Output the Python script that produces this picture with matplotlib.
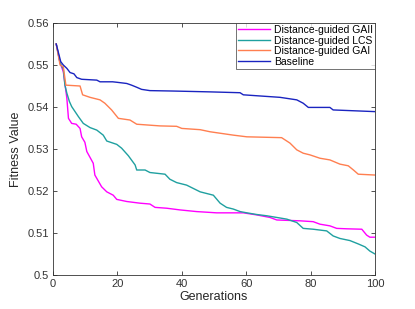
import matplotlib
matplotlib.use("Agg")
import matplotlib.pyplot as plt

# breakpoints (generation, fitness)
gen_gaii = [1, 2.2, 3.2, 4.3, 4.8, 5.8, 7.2, 8.4, 8.9, 9.9, 10.5, 11.5, 12.5, 13, 15.1, 16.7, 18.7, 19.8,
            22.9, 27, 30.1, 31.7, 35.3, 39.4, 44.6, 48.8, 50.8, 59.1, 63.3, 67.4, 69.5, 76.7, 80.8,
            82.9, 86, 88.1, 91.2, 95.9, 97.4, 98.4, 100]
fit_gaii = [0.555, 0.5505, 0.5484, 0.5421, 0.5373, 0.5361, 0.5359, 0.5349, 0.5329, 0.5316, 0.5294, 0.5280,
            0.5266, 0.5238, 0.5210, 0.5198, 0.5190, 0.5180, 0.5175, 0.5171, 0.5169, 0.5161, 0.5159,
            0.5155, 0.5151, 0.5149, 0.5148, 0.5148, 0.5143, 0.5137, 0.5131, 0.5129, 0.5127, 0.5121,
            0.5117, 0.5111, 0.5110, 0.5109, 0.5095, 0.5090, 0.5090]

gen_lcs = [1, 2.2, 3.2, 3.7, 4.3, 5.1, 5.8, 7.9, 9.4, 11.5, 13.6, 15.6, 16.7, 19.8, 21.3, 23.4, 25.5, 26,
           28.6, 30.1, 34.8, 36.3, 38.4, 41.5, 43.6, 45.7, 49.8, 51.9, 53.9, 56, 58.1, 60.2, 63.3,
           66.4, 69.5, 72.6, 75.7, 77.7, 80.8, 85, 87, 89.1, 92.2, 94.8, 96.9, 98.4, 100]
fit_lcs = [0.555, 0.5505, 0.5490, 0.5452, 0.5433, 0.5413, 0.5401, 0.5377, 0.5361, 0.5351, 0.5345, 0.5333,
           0.5319, 0.5311, 0.5302, 0.5284, 0.5262, 0.5250, 0.5250, 0.5244, 0.5240, 0.5228, 0.5220,
           0.5214, 0.5206, 0.5198, 0.5190, 0.5171, 0.5161, 0.5157, 0.5151, 0.5148, 0.5144, 0.5141,
           0.5137, 0.5133, 0.5125, 0.5111, 0.5109, 0.5105, 0.5093, 0.5087, 0.5082, 0.5074, 0.5067,
           0.5057, 0.5050]

gen_gai = [1, 2.2, 3.2, 4.0, 8.4, 9.2, 11.5, 14.6, 16.1, 18.2, 20.3, 23.9, 26, 33.2, 38.4, 40, 45.7,
           48.8, 56, 60.2, 71, 73.6, 75.7, 77.7, 79.8, 82.9, 86, 89.1, 91.7, 93.3, 94.8, 100]
fit_gai = [0.555, 0.5500, 0.5496, 0.5452, 0.5450, 0.5429, 0.5423, 0.5417, 0.5409, 0.5393, 0.5373, 0.5369,
           0.5359, 0.5355, 0.5354, 0.5349, 0.5346, 0.5341, 0.5333, 0.5329, 0.5327, 0.5314, 0.5298,
           0.5290, 0.5286, 0.5278, 0.5274, 0.5264, 0.5260, 0.5250, 0.5240, 0.5238]

gen_base = [1, 2.4, 3.2, 4.3, 5.3, 6.5, 7.4, 8.9, 13.6, 14.6, 18.5, 19.7, 22.9, 24.4, 26, 27.5, 30.1,
            37.4, 48.8, 58.1, 59.1, 70.5, 75.7, 77.7, 79.3, 86, 87, 100]
fit_base = [0.555, 0.5508, 0.5500, 0.5492, 0.5482, 0.5479, 0.5470, 0.5466, 0.5464, 0.5460, 0.5460, 0.5459,
            0.5456, 0.5452, 0.5447, 0.5442, 0.5439, 0.5438, 0.5436, 0.5434, 0.5429, 0.5423, 0.5417,
            0.5409, 0.5399, 0.5399, 0.5393, 0.5389]

plt.rcParams['font.family'] = ['Liberation Sans', 'DejaVu Sans']
fig = plt.figure(figsize=(4.15, 3.09), dpi=100)
ax = fig.add_axes([53/415, 34/309, 322/415, 252/309])

ax.plot(gen_gaii, fit_gaii, color='#ff00ff', linewidth=1, label='Distance-guided GAII')
ax.plot(gen_lcs, fit_lcs, color='#1fa0a0', linewidth=1, label='Distance-guided LCS')
ax.plot(gen_gai, fit_gai, color='#ff7f50', linewidth=1, label='Distance-guided GAI')
ax.plot(gen_base, fit_base, color='#1a24c0', linewidth=1, label='Baseline')

ax.set_xlim(0, 100)
ax.set_ylim(0.5, 0.56)
ax.set_xticks([0, 20, 40, 60, 80, 100])
ax.set_yticks([0.5, 0.51, 0.52, 0.53, 0.54, 0.55, 0.56])
ax.set_yticklabels(['0.5', '0.51', '0.52', '0.53', '0.54', '0.55', '0.56'])
ax.tick_params(direction='in', top=True, right=True, length=3, width=0.6,
               labelsize=8, colors='#333333', pad=3)
for s in ax.spines.values():
    s.set_color('#333333')
    s.set_linewidth(0.6)
ax.set_xlabel('Generations', fontsize=9, color='#262626', labelpad=1)
ax.set_ylabel('Fitness Value', fontsize=9, color='#262626', labelpad=4)

leg = ax.legend(loc='upper right', fontsize=7.5, frameon=True, fancybox=False,
                borderaxespad=0, borderpad=0.2, labelspacing=0.05, handlelength=3.1,
                handletextpad=0.35)
leg.get_frame().set_edgecolor('#333333')
leg.get_frame().set_linewidth(0.6)

fig.savefig('out.png', dpi=100)
